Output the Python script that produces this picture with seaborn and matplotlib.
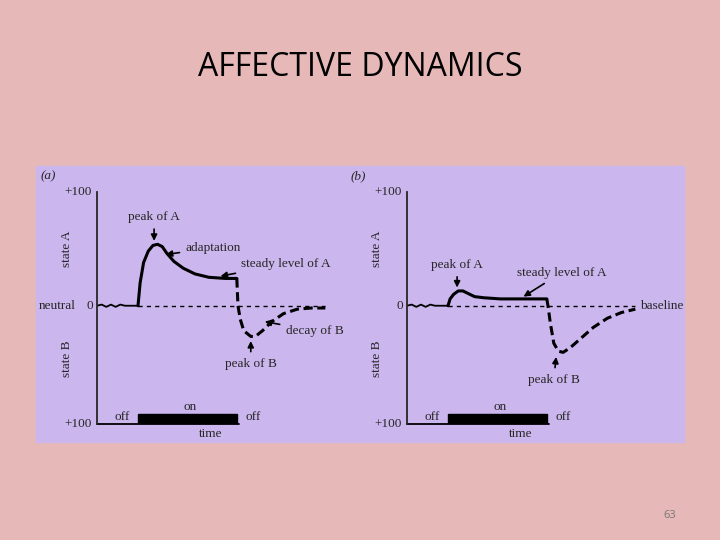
import matplotlib.pyplot as plt
import matplotlib.patches as mpatches
import seaborn as sns
import pandas as pd

# panel (a) curves: time (0-100), state (+A / -B)
a_pre_t = [0, 2, 4, 6, 8, 10, 12, 14, 17.6]
a_pre_v = [0, 1, -1, 1, -1, 1, 0, 0, 0]
a_A_t = [17.6, 18.5, 20, 22, 24, 26, 28, 30, 33, 37, 42, 48, 55, 60]
a_A_v = [0, 20, 38, 48, 53, 54, 52, 46, 39, 33, 28, 25, 24, 24]
a_B_t = [60, 60.5, 61.5, 63, 66, 68, 71, 75, 80, 86, 92, 98]
a_B_v = [24, 0, -12, -22, -27, -27, -22, -14, -7, -3, -2, -2]

# panel (b) curves
b_pre_t = [0, 2, 4, 6, 8, 10, 12, 14, 17.6]
b_pre_v = [0, 1, -1, 1, -1, 1, 0, 0, 0]
b_A_t = [17.6, 18.5, 20, 22, 24, 26, 29, 33, 40, 50, 60]
b_A_v = [0, 6, 10, 13, 13, 11, 8, 7, 6, 6, 6]
b_B_t = [60, 60.5, 61.5, 63, 65, 67, 70, 75, 80, 86, 92, 98]
b_B_v = [6, 0, -15, -33, -40, -41, -37, -28, -19, -11, -6, -3]

stim_on, stim_off = 17.6, 60

sns.set_style("white")
plt.rcParams['font.family'] = ['Liberation Serif', 'DejaVu Serif']

W, H = 720, 540
fig = plt.figure(figsize=(7.2, 5.4), dpi=100)
fig.patch.set_facecolor('#e6b9b8')
fig.add_artist(mpatches.Rectangle((36 / W, 1 - 442 / H), 648 / W, 276 / H,
                                  transform=fig.transFigure, color='#cbb6ee', zorder=0))
fig.text(360 / W, 1 - 68 / H, 'AFFECTIVE DYNAMICS', ha='center', va='center',
         fontsize=23, color='black', family=['Open Sans', 'DejaVu Sans'])
fig.text(670 / W, 1 - 515 / H, '63', ha='center', va='center', fontsize=8,
         color='#777777', family=['Open Sans', 'DejaVu Sans'])


def panel(x0, letter, pre, A, B, notes):
    ax = fig.add_axes([x0 / W, 1 - 424 / H, 233 / W, 232 / H])
    ax.set_xlim(0, 100)
    ax.set_ylim(-104, 100)
    ax.patch.set_alpha(0)
    for s in ['top', 'right', 'bottom']:
        ax.spines[s].set_visible(False)
    ax.spines['left'].set_linewidth(1.3)
    ax.set_xticks([])
    ax.set_yticks([])
    sns.lineplot(x=pre[0], y=pre[1], ax=ax, color='black', lw=1.3)
    sns.lineplot(x=A[0], y=A[1], ax=ax, color='black', lw=2.2, sort=False)
    sns.lineplot(x=B[0], y=B[1], ax=ax, color='black', lw=2.2, ls=(0, (3, 1.5)), sort=False)
    ax.plot([stim_on, 98], [0, 0], color='black', lw=1, ls=(0, (3, 3)))
    ax.plot([0, stim_off + 1], [-104, -104], color='black', lw=1.3, clip_on=False)
    ax.add_patch(mpatches.Rectangle((stim_on, -104), stim_off - stim_on, 9, color='black'))
    kw = dict(fontsize=9.5, ha='center', va='center')
    ax.text(stim_on - 7, -98, 'off', **kw)
    ax.text((stim_on + stim_off) / 2 + 1, -89, 'on', **kw)
    ax.text(stim_off + 7, -98, 'off', **kw)
    ax.text(49, -113, 'time', **kw)
    ax.text(-8, 100, '+100', **kw)
    ax.text(-8, -104, '+100', **kw)
    ax.text(-3, 0, '0', **kw)
    ax.text(-13, 50, 'state A', rotation=90, **kw)
    ax.text(-13, -47, 'state B', rotation=90, **kw)
    ax.text(-21, 114, letter, fontsize=9.5, style='italic', ha='center', va='center')
    for txt, xy, xt, ha in notes:
        if xy is None:
            ax.text(xt[0], xt[1], txt, fontsize=9.5, ha=ha, va='center')
        else:
            ax.annotate(txt, xy=xy, xytext=xt, fontsize=9.5, ha=ha, va='center',
                        arrowprops=dict(arrowstyle='-|>', color='black', lw=1.2,
                                        mutation_scale=9, shrinkA=2, shrinkB=0))
    return ax


axa = panel(97, '(a)', (a_pre_t, a_pre_v), (a_A_t, a_A_v), (a_B_t, a_B_v), [
    ('peak of A', (24.5, 57), (24.5, 78), 'center'),
    ('adaptation', (29.5, 45), (38, 51), 'left'),
    ('steady level of A', (53, 26), (62, 37), 'left'),
    ('decay of B', (72, -14), (81, -22), 'left'),
    ('peak of B', (66, -31), (66, -51), 'center'),
])
axa.text(-9, 0, 'neutral', fontsize=9.5, ha='right', va='center')

axb = panel(407, '(b)', (b_pre_t, b_pre_v), (b_A_t, b_A_v), (b_B_t, b_B_v), [
    ('peak of A', (21.5, 16), (21.5, 36), 'center'),
    ('steady level of A', (50, 8), (47, 29), 'left'),
    ('baseline', None, (100, 0), 'left'),
    ('peak of B', (64, -45), (63, -65), 'center'),
])

fig.savefig('out.png', dpi=100, facecolor=fig.get_facecolor())
